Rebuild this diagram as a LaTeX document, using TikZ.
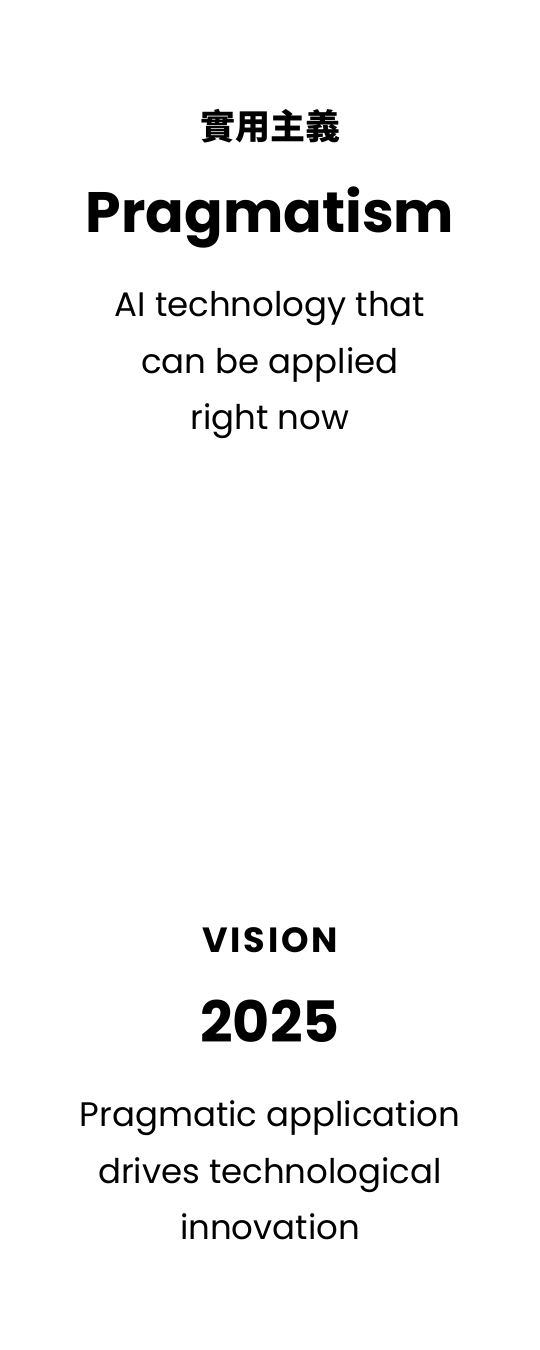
\documentclass[tikz,border=0pt]{standalone}
\usepackage{fontspec}
\setmainfont{Poppins}
\newfontfamily\cjk{Noto Sans CJK TC}

\begin{document}
\begin{tikzpicture}[x=1pt,y=-1pt,
    kicker/.style={anchor=base,inner sep=0pt,font=\fontsize{35}{40}\selectfont\bfseries},
    headline/.style={anchor=base,inner sep=0pt,font=\fontsize{57}{68}\selectfont\bfseries},
    blurb/.style={anchor=base,inner sep=0pt,font=\fontsize{34}{40}\selectfont}]
            \useasboundingbox (0,0) rectangle (540,1350);
            \node[kicker] (zh) at (270,139) {\cjk 實用主義};
            \node[headline] (prag) at (270,232) {Pragmatism};
            \node[blurb] (ai1) at (270,316) {AI technology that};
            \node[blurb] (ai2) at (270,373) {can be applied};
            \node[blurb] (ai3) at (270,429) {right now};
            \node[kicker] (vis) at (270,952) {\addfontfeature{LetterSpace=8}VISION\hspace{-2.8pt}};
            \node[headline] (year) at (270,1042) {2025};
            \node[blurb] (pa1) at (270,1126) {Pragmatic application};
            \node[blurb] (pa2) at (270,1183) {drives technological};
            \node[blurb] (pa3) at (270,1239) {innovation};
        \end{tikzpicture}
\end{document}
